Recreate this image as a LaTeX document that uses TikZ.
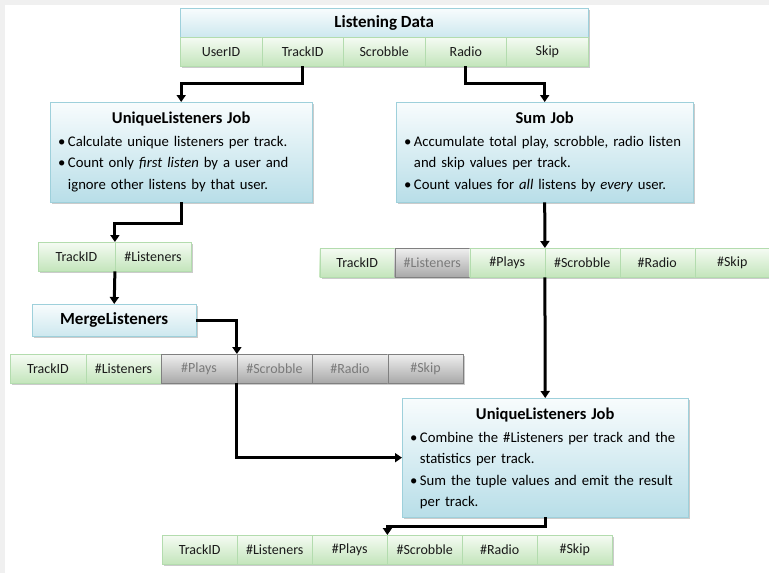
\documentclass[tikz,border=0pt]{standalone}
\usepackage{fontspec}
\setmainfont{Carlito}
\usetikzlibrary{arrows.meta,shadows}

\definecolor{band}{HTML}{F0F0F0}
\definecolor{jobline}{HTML}{9ED0DB}
\definecolor{jobtop}{HTML}{F8FCFD}
\definecolor{jobbot}{HTML}{B8DEE8}
\definecolor{greenline}{HTML}{B3DCAE}
\definecolor{greentop}{HTML}{F5FBF3}
\definecolor{greenbot}{HTML}{C3E5BB}
\definecolor{greentext}{HTML}{1A1A1A}
\definecolor{grayline}{HTML}{808080}
\definecolor{graytop}{HTML}{EFEFEF}
\definecolor{graybot}{HTML}{A8A8A8}
\definecolor{graytext}{HTML}{7A7A7A}

\newcommand\jobtitle[2][15.5pt]{{\centering\fontsize{16.5}{21.5}\selectfont\bfseries\rule{0pt}{#1}#2\par}\vspace{1pt}}

\begin{document}
\begin{tikzpicture}[
    x=1pt, y=-1pt,
    flow/.style={
      line width=3pt, -{Triangle[length=7pt,width=9pt]}
    },
    shade/.style={
      drop shadow={shadow xshift=2pt,shadow yshift=-2pt,fill=black!45,opacity=.45}
    },
    job/.style={draw=jobline, top color=jobtop, bottom color=jobbot, shade,
      anchor=north west, inner xsep=8pt, inner ysep=4pt, align=left,
      font=\fontsize{14.7}{21.5}\selectfont},
    head/.style={draw=jobline, top color=jobtop, bottom color=jobbot!70, shade,
      anchor=north west, inner sep=0pt, minimum height=29pt,
      font=\fontsize{17}{20}\selectfont\bfseries},
    cell/.style={draw=#1line, top color=#1top, bottom color=#1bot, text=#1text, shade,
      anchor=north west, inner sep=0pt, minimum width=75pt, minimum height=29pt,
      font=\fontsize{14}{16}\selectfont}
  ]
    \useasboundingbox (0,0) rectangle (769,573);
    \fill[band] (0,0) rectangle (769,5);
    \fill[band] (0,0) rectangle (5,573);

    % input records
    \node[head, minimum width=408pt] (ld) at (180,8) {Listening Data};
    \foreach \lab [count=\i] in {UserID,TrackID,Scrobble,Radio,Skip}
      \node[cell=green, minimum width=81.6pt] (ld\i) at ({180+81.6*(\i-1)},37) {\lab};

    % first two jobs
    \node[job, text width=246pt, minimum height=100pt] (ulA) at (50,102) {%
      \jobtitle{UniqueListeners Job}
      \noindent\begin{tabular}[t]{@{}l@{\,}l@{}}
        \textbullet & Calculate unique listeners per track.\\
        \textbullet & Count only \emph{first listen} by a user and\\
                    & ignore other listens by that user.
      \end{tabular}};
    \node[job, text width=281pt, minimum height=100pt] (sum) at (396,102) {%
      \jobtitle{Sum Job}
      \noindent\begin{tabular}[t]{@{}l@{\,}l@{}}
        \textbullet & Accumulate total play, scrobble, radio listen\\
                    & and skip values per track.\\
        \textbullet & Count values for \emph{all} listens by \emph{every} user.
      \end{tabular}};

    \draw[flow] (ld2.south) -- ++(0,17) -| (ulA.north);
    \draw[flow] (ld4.south) -- ++(0,17) -| (sum.north);

    % listeners per track
    \foreach \lab [count=\i] in {TrackID,\#Listeners}
      \node[cell=green, minimum width=76.5pt] (ta\i) at ({38+76.5*(\i-1)},242) {\lab};
    \node[head, minimum width=164pt, minimum height=32pt]
      (merge) at (32,304) {MergeListeners};

    \draw[flow] (ulA.south) -- ++(0,21) -| (ta1.north east);
    \draw[flow] (ta1.south east) -- (merge.north);

    % merged tuples
    \foreach \lab/\tone [count=\i] in {TrackID/green,\#Listeners/green,\#Plays/gray,\#Scrobble/gray,\#Radio/gray,\#Skip/gray}
      \node[cell=\tone, minimum width=75.5pt] (tb\i) at ({10+75.5*(\i-1)},354) {\lab};
    \foreach \lab/\tone [count=\i] in {TrackID/green,\#Listeners/gray,\#Plays/green,\#Scrobble/green,\#Radio/green,\#Skip/green}
      \node[cell=\tone] (tc\i) at ({319.5+75*(\i-1)},248) {\lab};

    \draw[flow] (merge.east) -| (tb3.north east);
    \draw[flow] (sum.south) -- (tc3.north east);

    % final job
    \node[job, text width=270pt, minimum height=115pt] (ulB) at (402,398) {%
      \jobtitle[17.5pt]{UniqueListeners Job}
      \noindent\begin{tabular}[t]{@{}l@{\,}l@{}}
        \textbullet & Combine the \#Listeners per track and the\\
                    & statistics per track.\\
        \textbullet & Sum the tuple values and emit the result\\
                    & per track.
      \end{tabular}};

    \draw[flow] (tb3.south east) |- (ulB.west);
    \draw[flow] (tc3.south east) -- (ulB.north);

    % result
    \foreach \lab [count=\i] in {TrackID,\#Listeners,\#Plays,\#Scrobble,\#Radio,\#Skip}
      \node[cell=green] (td\i) at ({162+75*(\i-1)},535) {\lab};
    \draw[flow] (ulB.south) -- ++(0,9) -| (td3.north east);
\end{tikzpicture}
\end{document}
